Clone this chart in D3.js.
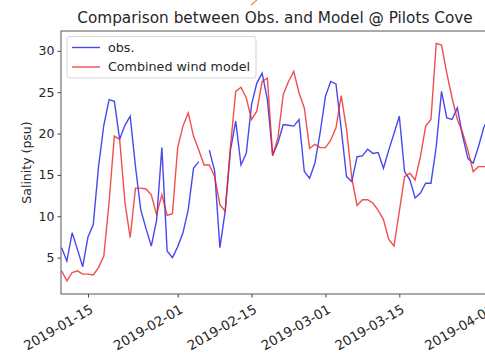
<!DOCTYPE html>
<html>
<head>
<meta charset="utf-8">
<script src="https://cdn.jsdelivr.net/npm/d3@7"></script>
<style>
  body { margin: 0; background: #fff; }
  text { font-family: "DejaVu Sans", sans-serif; fill: #262626; }
</style>
</head>
<body>
<svg id="viz"></svg>
<script>
var width = 485;
var height = 354;

// daily values from 2019-01-10 to 2019-04-01
var startDay = new Date(2019, 0, 10);
var endDay = new Date(2019, 3, 1);

var obs = [6.2, 4.6, 8.0, 6.0, 3.9, 7.5, 9.0, 16.0, 21.0, 24.1,
    23.9, 19.3, 21.0, 22.1, 16.0, 10.8, 8.5, 6.4, 9.5, 18.3,
    5.8, 5.0, 6.3, 8.0, 10.8, 15.8, 16.6, null, 18.0, 15.5,
    6.2, 10.6, 18.0, 21.5, 16.2, 17.6, 23.5, 26.1, 27.3, 24.1,
    17.4, 18.9, 21.1, 21.0, 20.9, 21.7, 15.4, 14.6, 16.4, 20.1,
    24.5, 26.3, 26.0, 20.5, 14.8, 14.2, 17.2, 17.3, 18.1, 17.6,
    17.7, 15.8, 18.0, 20.0, 22.1, 15.4, 14.4, 12.2, 12.8, 14.0,
    14.0, 18.4, 25.1, 21.9, 21.7, 23.1, 19.7, 17.0, 16.4, 18.4,
    20.7, 22.0];

var model = [3.4, 2.2, 3.2, 3.4, 3.0, 3.0, 2.9, 3.8, 5.2, 11.7,
    19.7, 19.3, 11.7, 7.4, 13.4, 13.4, 13.3, 12.6, 10.2, 12.6,
    10.1, 10.3, 18.3, 20.9, 22.5, 19.7, 18.0, 16.2, 16.2, 14.8,
    11.4, 10.6, 18.4, 25.1, 25.6, 24.3, 21.7, 22.7, 26.3, 26.7,
    17.3, 19.5, 24.7, 26.3, 27.5, 24.9, 23.1, 18.2, 18.7, 18.3,
    18.3, 19.2, 20.7, 24.6, 20.5, 14.6, 11.3, 12.0, 12.0, 11.6,
    10.7, 9.6, 7.2, 6.4, 10.6, 14.8, 15.2, 14.4, 17.2, 20.9,
    21.7, 30.9, 30.7, 27.3, 24.3, 21.7, 20.1, 18.0, 15.4, 16.0,
    16.0, 16.0];

var yTicks = [5, 10, 15, 20, 25, 30];
var xTicks = [new Date(2019, 0, 15), new Date(2019, 1, 1), new Date(2019, 1, 15),
    new Date(2019, 2, 1), new Date(2019, 2, 15), new Date(2019, 3, 1)];

var days = d3.timeDay.range(startDay, d3.timeDay.offset(endDay, 1));

var axL = 61, axR = 489, axT = 31, axB = 294;

var svg = d3.select("#viz")
    .attr("width", width)
    .attr("height", height);

var x = d3.scaleTime()
    .domain([startDay, endDay])
    .range([61.6, 489]);

var y = d3.scaleLinear()
    .domain([0.6, 32.4])
    .range([axB, axT]);

// small stray mark at the top of the picture
svg.append("line")
    .attr("x1", 251).attr("y1", 5).attr("x2", 257).attr("y2", 0)
    .style("stroke", "#f0902a")
    .style("stroke-width", 1.2);

// title
svg.append("text")
    .attr("x", 275)
    .attr("y", 23)
    .attr("text-anchor", "middle")
    .style("font-size", "15.3px")
    .text("Comparison between Obs. and Model @ Pilots Cove");

// y axis
var yAxis = svg.append("g")
    .attr("transform", "translate(" + axL + ",0)")
    .call(d3.axisLeft(y).tickValues(yTicks).tickSize(3.5).tickPadding(3));
yAxis.select(".domain").remove();
yAxis.selectAll("line").style("stroke", "#444");
yAxis.selectAll("text").style("font-size", "12.5px").style("fill", "#262626")
    .style("font-family", "DejaVu Sans");

// x axis
var xAxis = svg.append("g")
    .attr("transform", "translate(0," + axB + ")")
    .call(d3.axisBottom(x).tickValues(xTicks).tickSize(3.5).tickFormat(d3.timeFormat("%Y-%m-%d")));
xAxis.select(".domain").remove();
xAxis.selectAll("line").style("stroke", "#444");
xAxis.selectAll("text")
    .style("font-size", "13.3px")
    .style("fill", "#262626")
    .style("font-family", "DejaVu Sans")
    .attr("text-anchor", "end")
    .attr("y", 0)
    .attr("dy", "0.7em")
    .attr("transform", "translate(1,10) rotate(-30)");

svg.append("text")
    .attr("transform", "translate(27," + ((axT + axB) / 2) + ") rotate(-90)")
    .attr("text-anchor", "middle")
    .attr("dy", "0.35em")
    .style("font-size", "12.5px")
    .text("Salinity (psu)");

// lines
svg.append("clipPath").attr("id", "clip")
    .append("rect").attr("x", axL).attr("y", axT).attr("width", axR - axL).attr("height", axB - axT);

var line = d3.line()
    .defined(function(d) { return d[1] !== null; })
    .x(function(d) { return x(d[0]); })
    .y(function(d) { return y(d[1]); });

var plot = svg.append("g").attr("clip-path", "url(#clip)");

plot.append("path")
    .datum(days.map(function(d, i) { return [d, obs[i]]; }))
    .attr("d", line)
    .style("fill", "none")
    .style("stroke", "#1a1aee")
    .style("stroke-opacity", 0.8)
    .style("stroke-width", 1.4);

plot.append("path")
    .datum(days.map(function(d, i) { return [d, model[i]]; }))
    .attr("d", line)
    .style("fill", "none")
    .style("stroke", "#ee2222")
    .style("stroke-opacity", 0.8)
    .style("stroke-width", 1.4);

// spines
svg.append("rect")
    .attr("x", axL).attr("y", axT)
    .attr("width", axR - axL).attr("height", axB - axT)
    .style("fill", "none")
    .style("stroke", "#555")
    .style("stroke-width", 1);

// legend
var legend = svg.append("g");
legend.append("rect")
    .attr("x", 67).attr("y", 36.5)
    .attr("width", 189).attr("height", 41.5)
    .attr("rx", 3)
    .style("fill", "#fff")
    .style("fill-opacity", 0.8)
    .style("stroke", "#d6d6d6");

var legendItems = [["obs.", "#1a1aee"], ["Combined wind model", "#ee2222"]];
legend.selectAll("g.item")
    .data(legendItems)
    .enter().append("g")
    .attr("class", "item")
    .each(function(d, i) {
        var g = d3.select(this);
        var ly = 47.5 + i * 19.5;
        g.append("line")
            .attr("x1", 72).attr("x2", 100)
            .attr("y1", ly).attr("y2", ly)
            .style("stroke", d[1])
            .style("stroke-opacity", 0.8)
            .style("stroke-width", 1.4);
        g.append("text")
            .attr("x", 108).attr("y", ly)
            .attr("dy", "0.35em")
            .style("font-size", "12.7px")
            .text(d[0]);
    });
</script>
</body>
</html>
